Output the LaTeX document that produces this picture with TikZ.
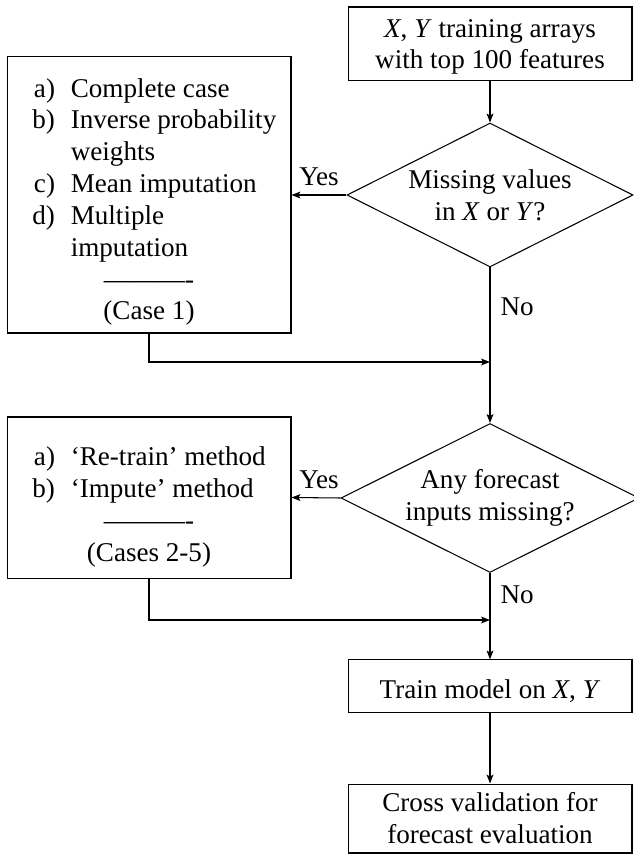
\documentclass[tikz,border=0pt]{standalone}
\usepackage{fontspec}
\setmainfont{Liberation Serif}
\usepackage{array}
\usetikzlibrary{shapes.geometric,arrows.meta}
\newcommand\lowerit[2]{\raisebox{-#1}[\height][\depth]{#2}}
\newcolumntype{P}{>{\raggedright\arraybackslash}p{79pt}}
\newcommand\dashline{\textemdash\textemdash\textemdash-}
\begin{document}
\begin{tikzpicture}[x=0.38pt,y=-0.38pt,
  every node/.style={font=\fontsize{10.3pt}{12.1pt}\selectfont},
  box/.style={draw, line width=0.4pt, inner sep=0pt, minimum width=107.9pt, align=center},
  dec/.style={draw, diamond, aspect=2, line width=0.4pt, inner sep=0pt, align=center},
  arr/.style={-{Stealth[length=3.4pt,width=2.6pt,inset=0.8pt]}, line width=0.4pt},
  lbl/.style={inner sep=0pt, anchor=base}]
\useasboundingbox (0,0) rectangle (634,854);

\node[box, minimum height=28.1pt] (top) at (490,44)
  {\lowerit{1pt}{\begin{tabular}{@{}c@{}}\textit{X}, \textit{Y} training arrays\\with top 100 features\end{tabular}}};

\node[dec, minimum width=108.7pt, minimum height=54.7pt] (d1) at (490,195)
  {Missing values\\in \textit{X} or \textit{Y}\/?};

\node[box, minimum height=104.9pt] (b1) at (149,195)
  {\lowerit{2.7pt}{\begin{tabular}{@{\hspace{5pt}}r@{\hspace{6pt}}P@{}}
  a) & Complete case\\
  b) & Inverse probability\\
     & weights\\
  c) & Mean imputation\\
  d) & Multiple\\
     & imputation\\
  \multicolumn{2}{@{}c@{}}{\dashline}\\
  \multicolumn{2}{@{}c@{}}{(Case 1)}
  \end{tabular}}};

\node[dec, minimum width=113.2pt, minimum height=56.6pt] (d2) at (490,498)
  {Any forecast\\inputs missing?};

\node[box, minimum height=61.2pt] (b2) at (149,497.5)
  {\lowerit{3.6pt}{\begin{tabular}{@{\hspace{5pt}}r@{\hspace{6pt}}P@{}}
  a) & `Re-train' method\\
  b) & `Impute' method\\
  \multicolumn{2}{@{}c@{}}{\dashline}\\
  \multicolumn{2}{@{}c@{}}{(Cases 2-5)}
  \end{tabular}}};

\node[box, minimum height=19.8pt] (train) at (490,686)
  {\lowerit{2pt}{Train model on \textit{X}, \textit{Y}}};

\node[box, minimum height=26.2pt] (cv) at (490,818.5)
  {Cross validation for\\forecast evaluation};

\coordinate (m1) at (490,362);
\coordinate (m2) at (490,620);

\draw[arr] (top) -- (d1);
\draw[arr] (d1.west) -- (b1.east);
\draw[arr] (d1) -- (d2);
\draw[arr] (b1.south) |- (m1);
\draw[arr] (d2.west) -- (b2.east);
\draw[arr] (d2) -- (train);
\draw[arr] (b2.south) |- (m2);
\draw[arr] (train) -- (cv);

\node[lbl] (yes1) at (319,186) {Yes};
\node[lbl] (yes2) at (319,488) {Yes};
\node[lbl, anchor=base west] (no1) at (500,315) {No};
\node[lbl, anchor=base west] (no2) at (500,603) {No};
\end{tikzpicture}
\end{document}
